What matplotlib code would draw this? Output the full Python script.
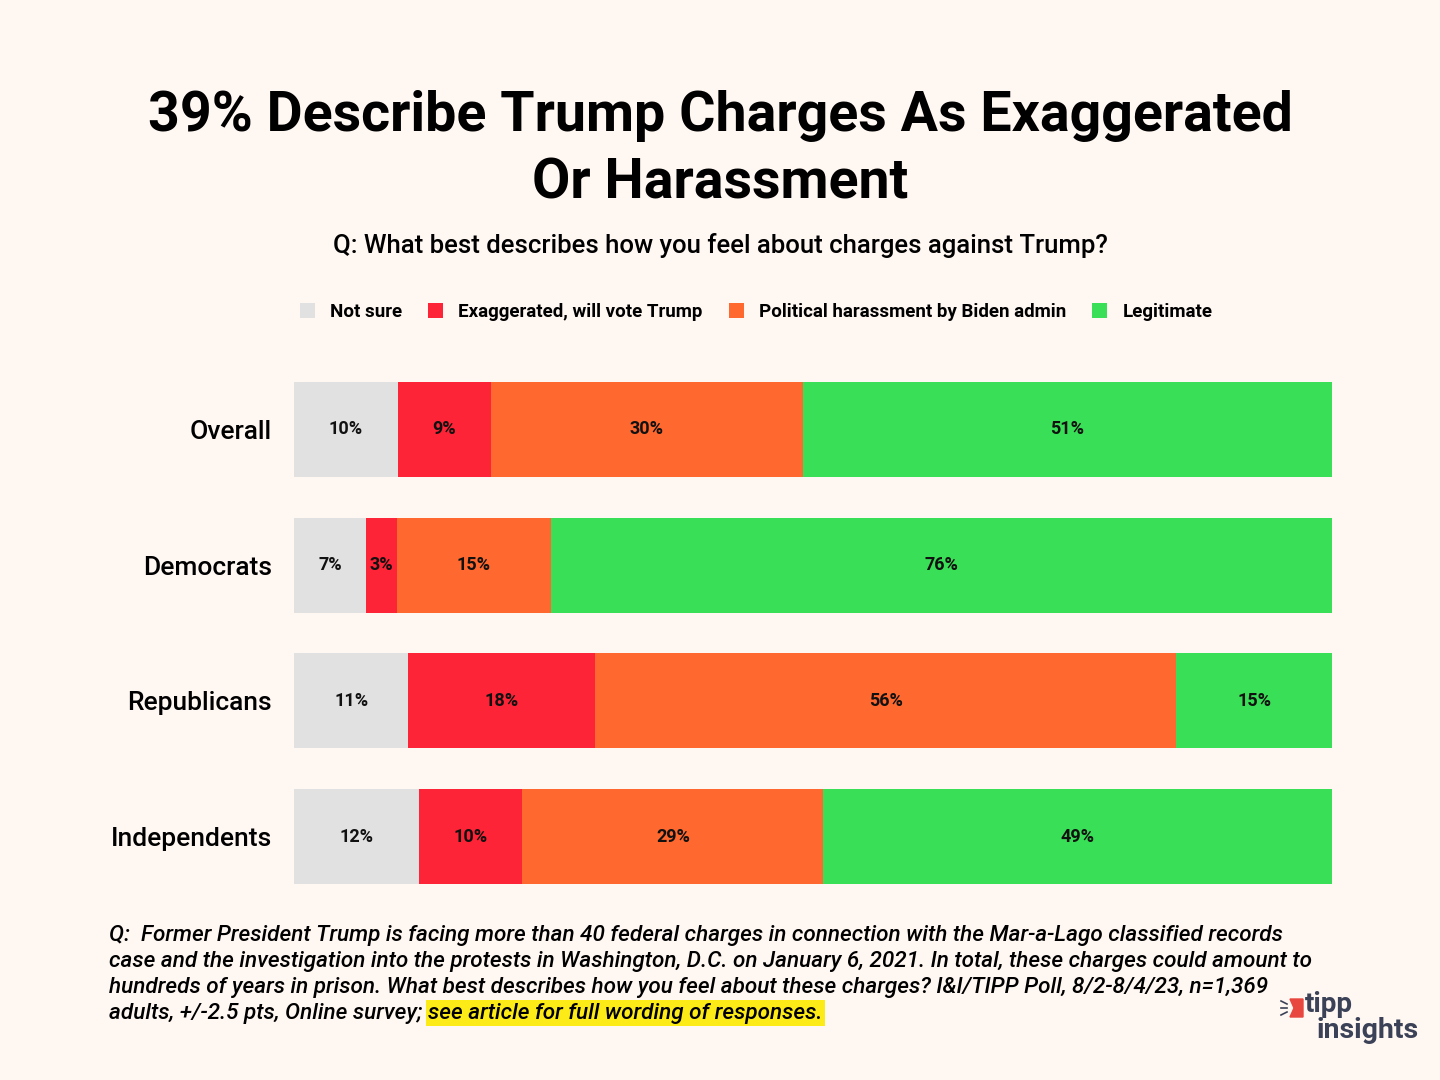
import matplotlib
matplotlib.use("Agg")
import matplotlib.pyplot as plt
import numpy as np
from matplotlib.patches import Polygon
from matplotlib.lines import Line2D

plt.rcParams['font.family'] = ['Roboto', 'DejaVu Sans']

groups = ["Overall", "Democrats", "Republicans", "Independents"]
series = ["Not sure", "Exaggerated, will vote Trump",
          "Political harassment by Biden admin", "Legitimate"]
not_sure = [10, 7, 11, 12]
exaggerated = [9, 3, 18, 10]
harassment = [30, 15, 56, 29]
legitimate = [51, 76, 15, 49]
colors = ["#E1E1E1", "#FC2436", "#FF682E", "#39DF56"]

bg = "#FFF7F2"
fig = plt.figure(figsize=(14.4, 10.8), dpi=100, facecolor=bg)
ax = fig.add_axes([294 / 1440, 1 - 884 / 1080, (1332 - 294) / 1440, (884 - 382) / 1080])
ax.set_facecolor(bg)

# each row scaled to fill the full width (Democrats sum to 101)
data = np.array([not_sure, exaggerated, harassment, legitimate], dtype=float)
totals = data.sum(axis=0)
shares = data / totals * 100
y = np.arange(len(groups))
left = np.zeros(len(groups))
for i, name in enumerate(series):
    bars = ax.barh(y, shares[i], left=left, height=0.7, color=colors[i], label=name)
    for j, b in enumerate(bars):
        ax.text(left[j] + shares[i][j] / 2, y[j], f"{int(data[i][j])}%",
                ha='center', va='center', fontsize=13, fontweight='bold', color='#111111')
    left += shares[i]

ax.set_xlim(0, 100)
ax.set_ylim(3.35, -0.35)
ax.set_yticks(y)
ax.set_yticklabels(groups, fontsize=19, fontweight='medium')
ax.tick_params(axis='y', length=0, pad=16)
ax.set_xticks([])
for s in ax.spines.values():
    s.set_visible(False)

# title and subtitle
fig.text(0.5, 1 - 116 / 1080, "39% Describe Trump Charges As Exaggerated", ha='center', va='center',
         fontsize=40, fontweight='bold')
fig.text(0.5, 1 - 183 / 1080, "Or Harassment", ha='center', va='center',
         fontsize=40, fontweight='bold')
fig.text(0.5, 1 - 246 / 1080, "Q: What best describes how you feel about charges against Trump?",
         ha='center', va='center', fontsize=18.5, fontweight='medium')

fig.legend(loc='center', bbox_to_anchor=(756 / 1440, 1 - 312 / 1080), ncol=4, frameon=False,
           handlelength=0.8, handleheight=0.8, handletextpad=0.8, columnspacing=1.4,
           prop={'weight': 'bold', 'size': 13.5})

# footnote
notes = [
    "Q:  Former President Trump is facing more than 40 federal charges in connection with the Mar-a-Lago classified records",
    "case and the investigation into the protests in Washington, D.C. on January 6, 2021. In total, these charges could amount to",
    "hundreds of years in prison. What best describes how you feel about these charges? I&I/TIPP Poll, 8/2-8/4/23, n=1,369",
]
fs = 16.2
for k, line in enumerate(notes):
    fig.text(109 / 1440, 1 - (935 + 26 * k) / 1080, line, ha='left', va='center',
             fontsize=fs, style='italic', fontweight='medium')
t1 = fig.text(109 / 1440, 1 - (935 + 26 * 3) / 1080, "adults, +/-2.5 pts, Online survey; ", ha='left',
              va='center', fontsize=fs, style='italic', fontweight='medium')
ax.annotate("see article for full wording of responses.", xy=(1, 0.5), xycoords=t1, ha='left', va='center',
            fontsize=fs, style='italic', fontweight='medium',
            bbox=dict(boxstyle='square,pad=0.1', fc='#FDEB17', ec='none'), annotation_clip=False)

# logo
fig.text(1305 / 1440, 1 - 1004 / 1080, "tipp", ha='left', va='center', fontsize=20,
         fontweight='bold', color='#3B4257')
fig.text(1317 / 1440, 1 - 1031 / 1080, "insights", ha='left', va='center', fontsize=20.5,
         fontweight='bold', color='#3B4257')
fig.patches.append(Polygon([[1290 / 1440, 1 - 999 / 1080], [1303 / 1440, 1 - 999 / 1080],
                            [1303 / 1440, 1 - 1017 / 1080], [1290 / 1440, 1 - 1017 / 1080],
                            [1294 / 1440, 1 - 1008 / 1080]], closed=True, color='#E8473F',
                           transform=fig.transFigure, figure=fig))
for dy0, dy1 in [(1001, 1004), (1008, 1008), (1015, 1012)]:
    fig.lines.append(Line2D([1281 / 1440, 1287 / 1440], [1 - dy0 / 1080, 1 - dy1 / 1080],
                            color='#3B4257', lw=1.2, transform=fig.transFigure, figure=fig))

fig.savefig("out.png", dpi=100, facecolor=bg)
